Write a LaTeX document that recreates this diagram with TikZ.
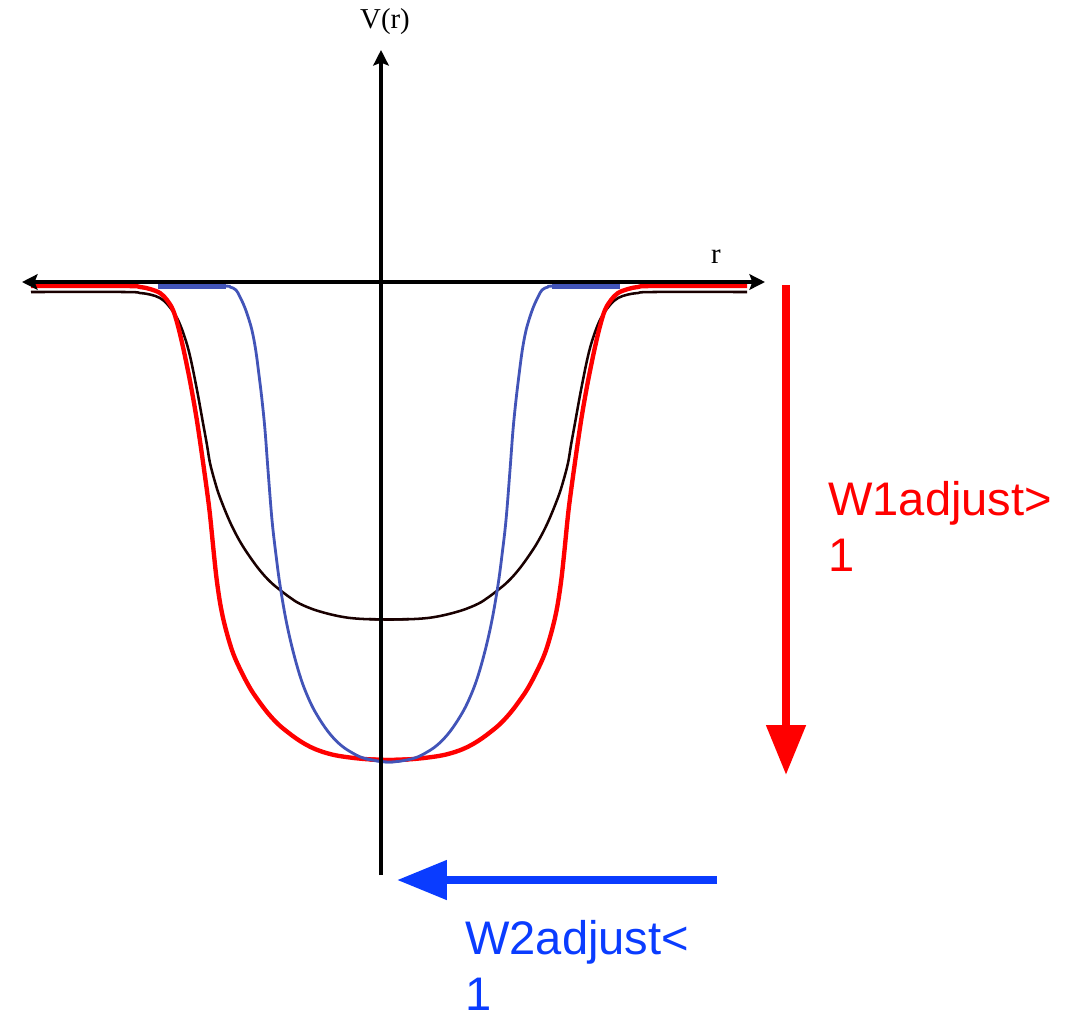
\documentclass[tikz,border=0pt]{standalone}
\usepackage{fontspec}
\setmainfont{Liberation Serif}
\newfontfamily\arialfont{Liberation Sans}
\usepackage{tikz}
\usetikzlibrary{arrows.meta}

\definecolor{wellred}{RGB}{255,0,0}
\definecolor{wellblue}{RGB}{66,84,184}
\definecolor{adjblue}{RGB}{10,60,255}

\begin{document}
\begin{tikzpicture}[
    x=0.025cm, y=-0.025cm,
    axis/.style   = {{Stealth[length=11pt, width=11pt, inset=2pt]}-{Stealth[length=11pt, width=11pt, inset=2pt]}, line width=2.5pt, black},
    vaxis/.style  = {-{Stealth[length=11pt, width=11pt, inset=2pt]}, line width=2.5pt, black},
    deep/.style   = {line width=3.1pt, wellred},
    shallow/.style= {line width=1.8pt, black!90!red},
    narrow/.style = {line width=2pt, wellblue},
    adjust/.style = {-{Triangle[length=35.5pt, width=27pt]}, line width=5.7pt},
    axlab/.style  = {font=\fontsize{20.5}{24}\selectfont, inner sep=0pt},
    adjlab/.style = {font=\arialfont\fontsize{33.5}{40}\selectfont, align=left, inner sep=0pt, anchor=north west}
  ]
  \useasboundingbox (0,0) rectangle (1076,1015);

  % --- potential wells (each half, mirrored about the centre) ---
  \foreach \side in {1,-1}{
    \begin{scope}[shift={(389,0)}, xscale=\side]
      \draw[shallow] plot[smooth, tension=0.6] coordinates {
        (-358,292) (-264,292) (-249,293) (-239,294.5) (-229,298) (-221,305)
        (-212,318) (-205,335) (-199,356) (-192,390) (-186,423) (-182,445)
        (-179,463) (-174,482) (-169,497.5) (-159,522) (-149,541.5) (-139,557)
        (-129,570.5) (-119,581.5) (-109,590) (-99,597.5) (-89,603.8)
        (-72,610.6) (-49,616.4) (-29,618.8) (0,619.5) (20,619)};
      \draw[deep] plot[smooth, tension=0.6] coordinates {
        (-358,286) (-264,286) (-249,287) (-239,289) (-229,293) (-222,300)
        (-216,310) (-211,326) (-206,347) (-202,366) (-199,381) (-195,403)
        (-192,421) (-189,441) (-186,462) (-182,491) (-179,515) (-175,555)
        (-172,582) (-168,608) (-163,630) (-156,653) (-148,671) (-139,688)
        (-131,700) (-122,712) (-113,722) (-104,730) (-89,741) (-74,749)
        (-57,754.5) (-39,757.5) (-19,759.4) (0,760) (19,759.4)};
      \draw[narrow] plot[smooth, tension=0.6] coordinates {
        (-230,286) (-167,286) (-159,287) (-153,290) (-149,297) (-144,308)
        (-139,323) (-136,335) (-133,352) (-130,375) (-127,400) (-124,430)
        (-121,470) (-117,520) (-113,555) (-109,585) (-103,620) (-96,651)
        (-88,679) (-80,699.5) (-72,715) (-61,731.5) (-50,743.5) (-39,751.5)
        (-24,758.5) (0,762) (24,758.5)};
      \draw[narrow, line width=3.6pt] (-231,286) -- (-163,286);
    \end{scope}
  }

  % --- axes ---
  \coordinate (rl) at (22,282);
  \coordinate (rr) at (765,282);
  \coordinate (vb) at (381,875);
  \coordinate (vt) at (381,50);
  \draw[axis]  (rl) -- (rr);
  \draw[vaxis] (vb) -- (vt);
  \node[axlab, anchor=base] (vlab) at (385,28) {V(r)};
  \node[axlab, anchor=base] (rlab) at (716,263) {r};

  % --- adjustment arrows ---
  \coordinate (w1s) at (786,285);
  \coordinate (w1e) at (786,775);
  \coordinate (w2s) at (717,880);
  \coordinate (w2e) at (397,880);
  \draw[adjust, wellred] (w1s) -- (w1e);
  \draw[adjust, adjblue] (w2s) -- (w2e);

  \node[adjlab, text=wellred] (w1lab) at (828,481) {W1adjust>\\1};
  \node[adjlab, text=adjblue] (w2lab) at (465,920) {W2adjust<\\1};

\end{tikzpicture}
\end{document}
